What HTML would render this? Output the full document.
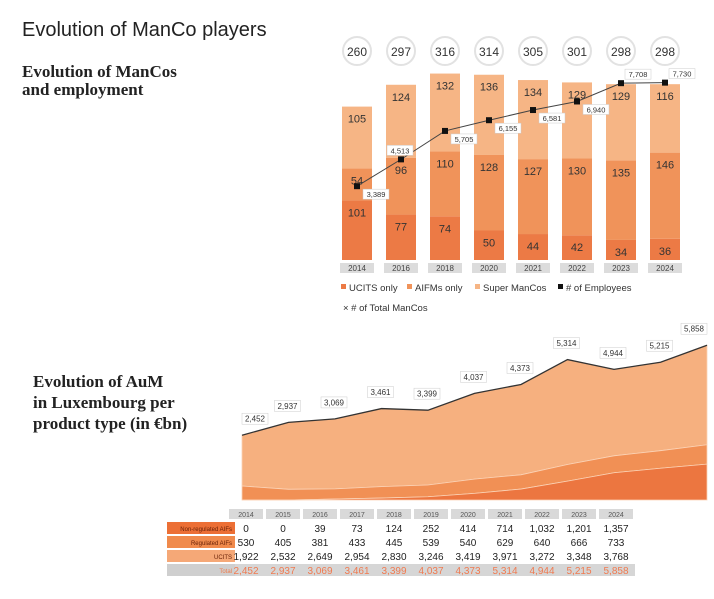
<!DOCTYPE html>
<html><head><meta charset="utf-8"><style>
body{margin:0;width:714px;height:599px;background:#fff;overflow:hidden;font-family:"Liberation Sans",sans-serif}
svg{position:absolute;left:0;top:0}
</style></head><body>
<svg id="s" width="714" height="599" viewBox="0 0 714 599">
<text x="22" y="36" font-size="20" fill="#222">Evolution of ManCo players</text>
<text x="22" y="77" font-size="17" font-weight="bold" fill="#222" font-family="Liberation Serif,serif">Evolution of ManCos</text>
<text x="22" y="95" font-size="17" font-weight="bold" fill="#222" font-family="Liberation Serif,serif">and employment</text>
<text x="33" y="387" font-size="17" font-weight="bold" fill="#222" font-family="Liberation Serif,serif">Evolution of AuM</text>
<text x="33" y="408" font-size="17" font-weight="bold" fill="#222" font-family="Liberation Serif,serif">in Luxembourg per</text>
<text x="33" y="429" font-size="17" font-weight="bold" fill="#222" font-family="Liberation Serif,serif">product type (in €bn)</text>
<g id="c1"></g><g id="c2"></g><g id="tb"></g>
</svg>
<script>
const years1=["2014","2016","2018","2020","2021","2022","2023","2024"];
const ucits1=[101,77,74,50,44,42,34,36];
const aifms1=[54,96,110,128,127,130,135,146];
const superM=[105,124,132,136,134,129,129,116];
const totals1=[260,297,316,314,305,301,298,298];
const employees=[3389,4513,5705,6155,6581,6940,7708,7730];
const years2=["2014","2015","2016","2017","2018","2019","2020","2021","2022","2023","2024"];
const nonReg=[0,0,39,73,124,252,414,714,1032,1201,1357];
const reg=[530,405,381,433,445,539,540,629,640,666,733];
const ucits2=[1922,2532,2649,2954,2830,3246,3419,3971,3272,3348,3768];
const total2=[2452,2937,3069,3461,3399,4037,4373,5314,4944,5215,5858];

const NS="http://www.w3.org/2000/svg";
function mk(p,t,a,txt){const e=document.createElementNS(NS,t);for(const k in a)e.setAttribute(k,a[k]);if(txt!==undefined)e.textContent=txt;p.appendChild(e);return e;}
const fmt=v=>v.toLocaleString("en-US");

// Chart 1
const c1=document.getElementById("c1");
const bx=i=>357+i*44, by=v=>260-v*0.59, ey=v=>267-v*0.02385;
years1.forEach((y,i)=>{
  const x=bx(i)-15;let base=0;
  [[ucits1,"#ec7a45"],[aifms1,"#f0935a"],[superM,"#f6b585"]].forEach(([arr,c],k)=>{
    const v=arr[i];
    const r=mk(c1,"rect",{x:x,y:by(base+v),width:30,height:v*0.59,fill:c});
    
    
    const t=mk(c1,"text",{x:bx(i),y:by(base+v)+16,"text-anchor":"middle","font-size":"11",fill:"#333"},v);
    
    
    base+=v;
  });
  const yr=mk(c1,"rect",{x:x-2,y:263,width:34,height:10,fill:"#dcdcdc"});
  
  
  const yt=mk(c1,"text",{x:bx(i),y:271,"text-anchor":"middle","font-size":"8",fill:"#444"},y);
  
  
  const ci=mk(c1,"circle",{cx:bx(i),cy:51,r:14,fill:"#fff",stroke:"#e2e2e2","stroke-width":"2"});
  
  
  const ct=mk(c1,"text",{x:bx(i),y:56,"text-anchor":"middle","font-size":"12",fill:"#333"},totals1[i]);
  
  
});
const pts=employees.map((v,i)=>bx(i)+","+ey(v)).join(" ");
const pl=mk(c1,"polyline",{points:pts,fill:"none",stroke:"#444","stroke-width":"1"});


employees.forEach((v,i)=>{
  const m=mk(c1,"rect",{x:bx(i)-3,y:ey(v)-3,width:6,height:6,fill:"#111"});
  
  
  const above=(i==1||i>=6);
  const lx=above?bx(i)-(i==1?14:-4):bx(i)+6, ly=above?ey(v)-14:ey(v)+3;
  const b=mk(c1,"rect",{x:lx,y:ly,width:26,height:10,fill:"#fff",stroke:"#ccc","stroke-width":"0.5"});
  
  
  const t=mk(c1,"text",{x:lx+13,y:ly+8,"text-anchor":"middle","font-size":"7.5",fill:"#333"},fmt(v));
  
  
});
[["UCITS only","#ec7a45",341],["AIFMs only","#f0935a",407],["Super ManCos","#f6b585",475],["# of Employees","#111",558]].forEach(([l,c,x])=>{
  const s=mk(c1,"rect",{x:x,y:284,width:5,height:5,fill:c});
  
  
  const t=mk(c1,"text",{x:x+8,y:291,"font-size":"9.5",fill:"#333"},l);
  
  
});
const lt=mk(c1,"text",{x:343,y:311,"font-size":"9.5",fill:"#333"},"\u00d7    # of Total ManCos");



// Chart 2
const c2=document.getElementById("c2");
const ax=i=>242+i*46.5, ay=v=>500-v*0.02642;
function area(top,bot,c,n){
  let d="M"+ax(0)+","+ay(top[0]);
  top.forEach((v,i)=>d+=" L"+ax(i)+","+ay(v));
  for(let i=bot.length-1;i>=0;i--)d+=" L"+ax(i)+","+ay(bot[i]);
  const p=mk(c2,"path",{d:d+"Z",fill:c,stroke:"#fbd2b5","stroke-width":"0.8"});
  
  
}
const zero=total2.map(()=>0);
const s1=nonReg.slice(), s2=nonReg.map((v,i)=>v+reg[i]), s3=total2.slice();
area(s3,s2,"#f6b07f","area-ucits");
area(s2,s1,"#f19055","area-regulated-aifs");
area(s1,zero,"#ec7640","area-non-regulated-aifs");
const tl=mk(c2,"polyline",{points:total2.map((v,i)=>ax(i)+","+ay(v)).join(" "),fill:"none",stroke:"#333","stroke-width":"1.3"});


total2.forEach((v,i)=>{
  const lx=ax(i)-(i==10?12:0)+(i==0?0:-14), ly=ay(v)-22;
  const b=mk(c2,"rect",{x:lx,y:ly,width:26,height:11,fill:"#fff",stroke:"#ccc","stroke-width":"0.5"});
  
  
  const t=mk(c2,"text",{x:lx+13,y:ly+8.5,"text-anchor":"middle","font-size":"8",fill:"#333"},fmt(v));
  
  
});

// Table
const tb=document.getElementById("tb");
const tx=i=>246+i*37;
years2.forEach((y,i)=>{
  const r=mk(tb,"rect",{x:tx(i)-17,y:509,width:34,height:10,fill:"#d9d9d9"});
  
  
  const t=mk(tb,"text",{x:tx(i),y:517,"text-anchor":"middle","font-size":"7",fill:"#555"},y);
  
  
});
const rowsL=["Non-regulated AIFs","Regulated AIFs","UCITS","Total"];
const rowsD=[nonReg,reg,ucits2,total2];
const rowC=["#ec6f35","#f08a4c","#f5a877","#cfcfcf"];
const rowY=[522,536,550,564];
rowsL.forEach((l,k)=>{
  const r=mk(tb,"rect",{x:167,y:rowY[k],width:68,height:12,fill:rowC[k]});
  
  
  const t=mk(tb,"text",{x:232,y:rowY[k]+9,"text-anchor":"end","font-size":"6",fill:k==3?"#f07a4a":"#6a2208"},l);
  
  
  if(k==3){
    const bg=mk(tb,"rect",{x:235,y:rowY[k],width:400,height:12,fill:"#d6d6d6"});
    
    
  }
  rowsD[k].forEach((v,i)=>{
    const t=mk(tb,"text",{x:tx(i),y:rowY[k]+10,"text-anchor":"middle","font-size":"10",fill:k==3?"#f07a50":"#222"},fmt(v));
    
    
  });
});
</script>
</body></html>
